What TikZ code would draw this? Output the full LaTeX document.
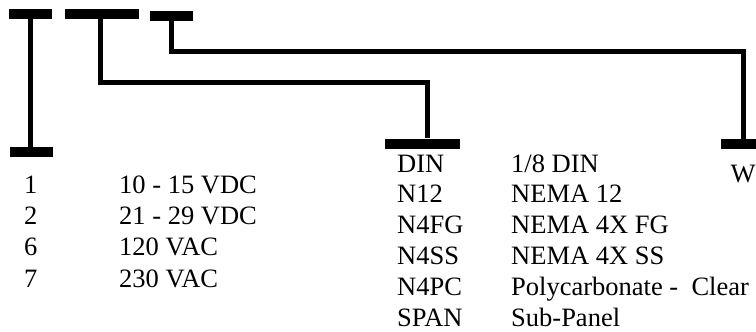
\documentclass[tikz,border=0pt]{standalone}
\usepackage{fontspec}
\setmainfont{Liberation Serif}
\begin{document}
\begin{tikzpicture}[x=1pt,y=-1pt,
  bar/.style={fill=black,inner sep=0pt,minimum height=10pt},
  conn/.style={line width=5pt,line join=miter},
  lbl/.style={anchor=base west,inner sep=0pt,font=\fontsize{26.5}{30}\selectfont}]
\useasboundingbox (0,0) rectangle (756,332);
% top bars
\node[bar,minimum width=43pt] (t1) at (30,14) {};
\node[bar,minimum width=74pt] (t2) at (102,14) {};
\node[bar,minimum width=43pt] (t3) at (171.5,16) {};
% bottom bars
\node[bar,minimum width=43pt] (b1) at (31.5,152) {};
\node[bar,minimum width=75pt] (b2) at (422.5,143.5) {};
\node[bar,minimum width=44pt] (b3) at (743,144) {};
% corner coordinates
\coordinate (k2) at (427,82);
\coordinate (k3) at (743,51);
% connectors
\draw[conn] (t1.south) -- (t1.south |- b1.north);
\draw[conn] ([xshift=-2pt]t2.south) |- (k2) -- (k2 |- b2.north);
\draw[conn] (t3.south) |- (k3) -- (b3.north);
% left table
\node[lbl] (n1) at (24,193) {1};
\node[lbl] (v1) at (119,193) {10 - 15 VDC};
\node[lbl] (n2) at (24,224.4) {2};
\node[lbl] (v2) at (119,224.4) {21 - 29 VDC};
\node[lbl] (n6) at (24,255.8) {6};
\node[lbl] (v6) at (119,255.8) {120 VAC};
\node[lbl] (n7) at (24,287.2) {7};
\node[lbl] (v7) at (119,287.2) {230 VAC};
% right table
\node[lbl] (c1) at (397,172) {DIN};
\node[lbl] (d1) at (511,172) {1/8 DIN};
\node[lbl] (c2) at (397,202.8) {N12};
\node[lbl] (d2) at (511,202.8) {NEMA 12};
\node[lbl] (c3) at (397,233.6) {N4FG};
\node[lbl] (d3) at (511,233.6) {NEMA 4X FG};
\node[lbl] (c4) at (397,264.4) {N4SS};
\node[lbl] (d4) at (511,264.4) {NEMA 4X SS};
\node[lbl] (c5) at (397,295.2) {N4PC};
\node[lbl] (d5) at (511,295.2) {Polycarbonate -\ \ Clear};
\node[lbl,text depth=0pt] (c6) at (397,326) {SPAN};
\node[lbl,text depth=0pt] (d6) at (511,326) {Sub-Panel};
\node[lbl,text depth=0pt] (w) at (730.5,182.5) {W};
\end{tikzpicture}
\end{document}
